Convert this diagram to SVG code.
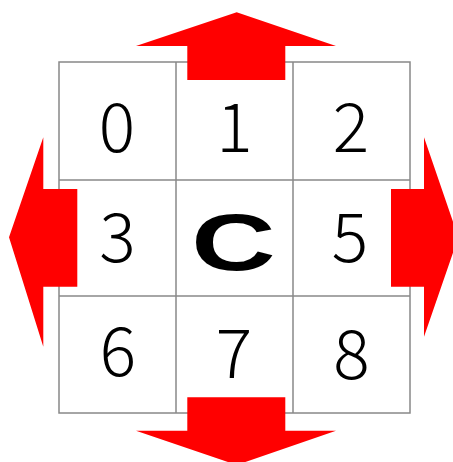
<svg xmlns="http://www.w3.org/2000/svg" width="453" height="462" viewBox="0 0 453 462">
<style>
.grid{fill:none;stroke:#888;stroke-width:1.5}
.num{font-family:"Noto Sans CJK JP","Noto Sans",sans-serif;font-weight:300;font-size:68px;fill:#000;text-anchor:middle}
.arrow{fill:#ff0000}
.c{font-family:"Liberation Sans",Arial,sans-serif;font-weight:bold;font-size:80px;fill:#000;text-anchor:middle}
</style>
<rect width="453" height="462" fill="#fff"/>
<g id="grid" class="grid">
<rect x="59" y="62" width="351" height="351"/>
<line x1="176" y1="62" x2="176" y2="413"/>
<line x1="293" y1="62" x2="293" y2="413"/>
<line x1="59" y1="180" x2="410" y2="180"/>
<line x1="59" y1="296" x2="410" y2="296"/>
</g>
<g id="cell0"><text class="num" x="117" y="152">0</text></g>
<g id="cell1"><text class="num" x="234.5" y="152">1</text></g>
<g id="cell2"><text class="num" x="351" y="152">2</text></g>
<g id="cell3"><text class="num" x="117.5" y="262">3</text></g>
<g id="cellC"><text class="c" transform="translate(233.3,269.7) scale(1.46,1)">C</text></g>
<g id="cell5"><text class="num" x="350" y="262">5</text></g>
<g id="cell6"><text class="num" x="118" y="376">6</text></g>
<g id="cell7"><text class="num" x="234" y="378">7</text></g>
<g id="cell8"><text class="num" x="351.5" y="379">8</text></g>
<g id="arrows" class="arrow">
<polygon id="arrow-up" points="236.7,12.3 336,46 285.3,46 285.3,80 187.3,80 187.3,46 136,46"/>
<polygon id="arrow-left" points="9,237.3 43.3,137.3 43.3,189 77.3,189 77.3,286.7 43.3,286.7 43.3,346.7"/>
<polygon id="arrow-right" points="391,189 424,189 424,137.3 458.3,237.3 424,336.7 424,286.7 391,286.7"/>
<polygon id="arrow-down" points="187.3,397.3 285.3,397.3 285.3,430.7 336,430.7 236.7,465 136,430.7 187.3,430.7"/>
</g>
</svg>
